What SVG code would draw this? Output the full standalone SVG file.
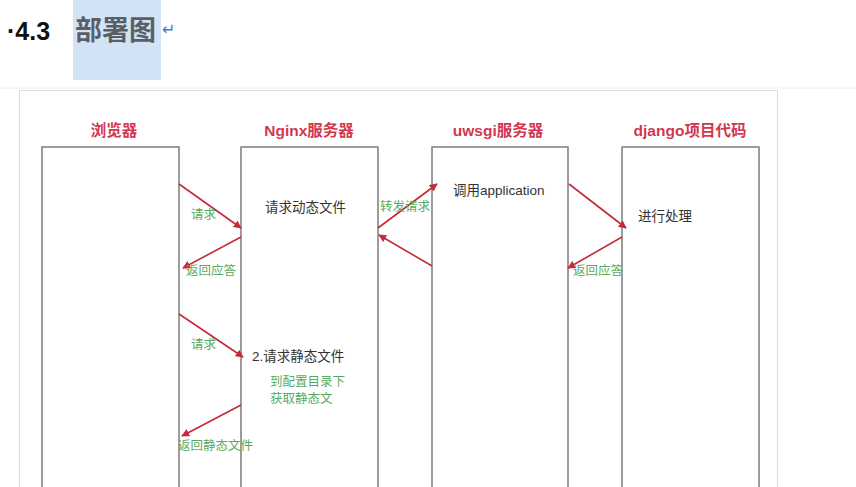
<svg xmlns="http://www.w3.org/2000/svg" width="856" height="487" viewBox="0 0 856 487">
<style>
.hdr{font-family:"Liberation Sans","Noto Sans CJK SC",sans-serif;font-size:15.5px;font-weight:bold;fill:#d2374f;text-anchor:middle}
.body{font-family:"Liberation Sans","Noto Sans CJK SC",sans-serif;font-size:13.5px;fill:#333}
.note{font-family:"Liberation Sans","Noto Sans CJK SC",sans-serif;font-size:12.5px;fill:#5aaa5e}
.lane{fill:#fff;stroke:#7c7c7c;stroke-width:1.5}
.arr{stroke:#c52a38;stroke-width:1.6;fill:none;marker-end:url(#ah)}
</style>
<defs>
<marker id="ah" viewBox="0 0 10 10" refX="9" refY="5" markerWidth="8" markerHeight="8" markerUnits="userSpaceOnUse" orient="auto">
<path d="M0,0 L10,5 L0,10 z" fill="#c52a38"/>
</marker>
</defs>
<rect x="0" y="0" width="856" height="487" fill="#fff"/>
<g id="title">
<rect x="73" y="0" width="88" height="80" fill="#d3e3f6"/>
<text x="7" y="40" font-family="Liberation Sans,sans-serif" font-size="25" font-weight="bold" fill="#111">·4.3</text>
<text x="75" y="40" font-family="Noto Sans CJK SC,sans-serif" font-size="27" font-weight="bold" fill="#5a5f66">部署图</text>
<text x="162" y="35" font-family="DejaVu Sans,sans-serif" font-size="16" fill="#3f78cc">↵</text>
</g>
<line x1="0" y1="88" x2="856" y2="88" stroke="#eeeeee" stroke-width="1"/>
<rect x="19.5" y="90.5" width="758" height="420" fill="none" stroke="#dedede" stroke-width="1"/>
<g id="browser">
<text class="hdr" x="114" y="136">浏览器</text>
<rect class="lane" x="42" y="147" width="137" height="360"/>
</g>
<g id="nginx">
<text class="hdr" x="309" y="136">Nginx服务器</text>
<rect class="lane" x="241" y="147" width="137" height="360"/>
<text class="body" x="265" y="212">请求动态文件</text>
<text class="body" x="252" y="361">2.请求静态文件</text>
<text class="note" x="270" y="386">到配置目录下</text>
<text class="note" x="270" y="403">获取静态文</text>
</g>
<g id="uwsgi">
<text class="hdr" x="498" y="136">uwsgi服务器</text>
<rect class="lane" x="432" y="147" width="136" height="360"/>
<text class="body" x="453" y="195">调用application</text>
</g>
<g id="django">
<text class="hdr" x="690" y="136">django项目代码</text>
<rect class="lane" x="622" y="147" width="137" height="360"/>
<text class="body" x="638" y="221">进行处理</text>
</g>
<g id="connectors">
<line class="arr" x1="179" y1="184" x2="241" y2="228"/>
<line class="arr" x1="241" y1="237" x2="183" y2="268"/>
<line class="arr" x1="378" y1="228" x2="437" y2="184"/>
<line class="arr" x1="432" y1="266" x2="379" y2="235"/>
<line class="arr" x1="569" y1="184" x2="626" y2="228"/>
<line class="arr" x1="622" y1="237" x2="568" y2="268"/>
<line class="arr" x1="179" y1="314" x2="243" y2="357"/>
<line class="arr" x1="241" y1="405" x2="182" y2="436"/>
<text class="note" x="191" y="219">请求</text>
<text class="note" x="186" y="275">返回应答</text>
<text class="note" x="380" y="211">转发请求</text>
<text class="note" x="573" y="275">返回应答</text>
<text class="note" x="191" y="349">请求</text>
<text class="note" x="178" y="450">返回静态文件</text>
</g>
</svg>
